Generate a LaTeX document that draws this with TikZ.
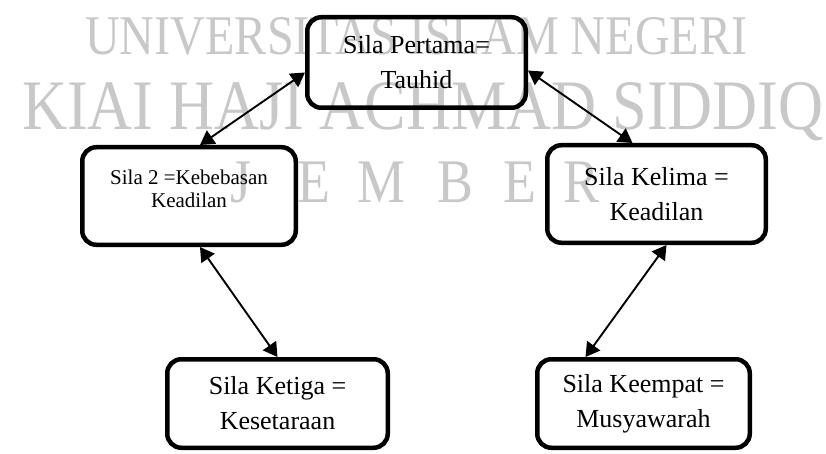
\documentclass[tikz,border=0pt]{standalone}
\usepackage{fontspec}
\setmainfont{Liberation Serif}
\usetikzlibrary{arrows.meta}
\definecolor{wmgray}{RGB}{200,200,200}
\tikzset{
  sila/.style={draw, line width=4.5pt, rounded corners=14pt, align=center,
    inner sep=0pt, font=\fontsize{26}{35}\selectfont},
  link/.style={line width=1.9pt,
    {Triangle[length=14pt 0 0,width=16pt 0 0]}-{Triangle[length=14pt 0 0,width=16pt 0 0]}},
  wmark/.style={text=wmgray, inner sep=0pt, anchor=base west}
}
\begin{document}
\begin{tikzpicture}[x=1pt,y=-1pt]
\useasboundingbox (0,0) rectangle (826,454);
% watermark
\node[wmark, font=\fontsize{56}{56}\selectfont] (wa) at (85,55) {\scalebox{0.86}[1]{UNIVERSITAS ISLAM NEGERI}};
\node[wmark, font=\fontsize{71}{71}\selectfont] (wb) at (22,130) {\scalebox{0.878}[1]{KIAI HAJI ACHMAD SIDDIQ}};
\foreach \l/\x [count=\i] in {J/230,E/297,M/357,B/437,E/503,R/563}
  \node[wmark, font=\fontsize{62}{62}\selectfont] (wc\i) at (\x,203) {\scalebox{0.87}[1]{\l}};
% boxes
\node[sila, minimum width=218.5pt, minimum height=90.5pt] (top) at (416.5,62.5) {Sila Pertama=\\Tauhid};
\node[sila, minimum width=213.5pt, minimum height=97.5pt,
  label={[font=\fontsize{21}{23}\selectfont, align=center, yshift=7pt]center:Sila 2 =Kebebasan\\Keadilan}] (s2) at (189,196) {};
\node[sila, minimum width=218.5pt, minimum height=97.5pt] (s5) at (656.5,194) {Sila Kelima =\\Keadilan};
\node[sila, minimum width=220.5pt, minimum height=88.5pt] (k3) at (277.5,403.5) {Sila Ketiga =\\Kesetaraan};
\node[sila, minimum width=212.5pt, minimum height=88.5pt] (k4) at (643.5,403.5) {Sila Keempat =\\Musyawarah};
% connectors
\draw[link] ([yshift=-10pt]top.west) -- ([xshift=11pt]s2.north);
\draw[link] ([yshift=-8pt]top.east) -- ([xshift=-24pt]s5.north);
\draw[link] ([xshift=11pt]s2.south) -- (k3.north);
\draw[link] ([xshift=10pt]s5.south) -- ([xshift=-58pt]k4.north);
\end{tikzpicture}
\end{document}
